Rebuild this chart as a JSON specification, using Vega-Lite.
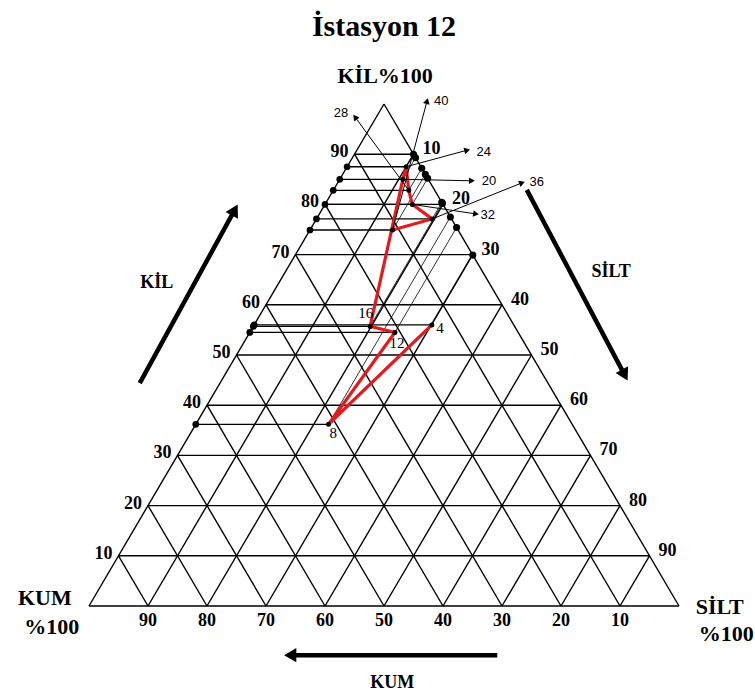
{
  "$schema": "https://vega.github.io/schema/vega-lite/v6.json",
  "width": 590,
  "height": 502,
  "autosize": {"type": "none"},
  "padding": {"left": 89, "top": 104, "right": 76, "bottom": 88},
  "background": "white",
  "config": {"view": {"stroke": null}},
  "title": {"text": "İstasyon 12", "font": "Liberation Serif", "fontSize": 30, "fontWeight": "bold", "color": "black", "anchor": "middle", "baseline": "bottom", "offset": -7},
  "datasets": {
    "grid": [
      {"x": 0, "y": 0, "x2": 100, "y2": 0},
      {"x": 0, "y": 0, "x2": 50, "y2": 100},
      {"x": 100, "y": 0, "x2": 50, "y2": 100},
      {"x": 5, "y": 10, "x2": 95, "y2": 10},
      {"x": 10, "y": 20, "x2": 90, "y2": 20},
      {"x": 15, "y": 30, "x2": 85, "y2": 30},
      {"x": 20, "y": 40, "x2": 80, "y2": 40},
      {"x": 25, "y": 50, "x2": 75, "y2": 50},
      {"x": 30, "y": 60, "x2": 70, "y2": 60},
      {"x": 35, "y": 70, "x2": 65, "y2": 70},
      {"x": 40, "y": 80, "x2": 60, "y2": 80},
      {"x": 45, "y": 90, "x2": 55, "y2": 90},
      {"x": 10, "y": 0, "x2": 55, "y2": 90},
      {"x": 20, "y": 0, "x2": 60, "y2": 80},
      {"x": 30, "y": 0, "x2": 65, "y2": 70},
      {"x": 40, "y": 0, "x2": 70, "y2": 60},
      {"x": 50, "y": 0, "x2": 75, "y2": 50},
      {"x": 60, "y": 0, "x2": 80, "y2": 40},
      {"x": 70, "y": 0, "x2": 85, "y2": 30},
      {"x": 80, "y": 0, "x2": 90, "y2": 20},
      {"x": 90, "y": 0, "x2": 95, "y2": 10},
      {"x": 10, "y": 0, "x2": 5, "y2": 10},
      {"x": 20, "y": 0, "x2": 10, "y2": 20},
      {"x": 30, "y": 0, "x2": 15, "y2": 30},
      {"x": 40, "y": 0, "x2": 20, "y2": 40},
      {"x": 50, "y": 0, "x2": 25, "y2": 50},
      {"x": 60, "y": 0, "x2": 30, "y2": 60},
      {"x": 70, "y": 0, "x2": 35, "y2": 70},
      {"x": 80, "y": 0, "x2": 40, "y2": 80},
      {"x": 90, "y": 0, "x2": 45, "y2": 90}
    ],
    "samples": [
      {"depth": 4, "clay": 56.0, "silt": 30.1, "sand": 13.9, "lx": 59.5, "ly": 55.4},
      {"depth": 8, "clay": 36.2, "silt": 22.5, "sand": 41.3, "lx": 41.4, "ly": 34.5},
      {"depth": 12, "clay": 54.5, "silt": 24.6, "sand": 20.9, "lx": 52.2, "ly": 52.4},
      {"depth": 16, "clay": 55.7, "silt": 19.8, "sand": 24.5, "lx": 46.9, "ly": 58.4},
      {"depth": 20, "clay": 85.0, "silt": 10.7, "sand": 4.3, "tx": 64.9, "ty": 84.7, "lx": 67.8, "ly": 84.7},
      {"depth": 24, "clay": 87.5, "silt": 10.0, "sand": 2.5, "tx": 64.1, "ty": 90.8, "lx": 66.9, "ly": 90.4},
      {"depth": 28, "clay": 82.8, "silt": 12.8, "sand": 4.4, "tx": 45.1, "ty": 97.4, "lx": 42.7, "ly": 98.2},
      {"depth": 32, "clay": 80.0, "silt": 14.8, "sand": 5.2, "tx": 65.6, "ty": 78.1, "lx": 67.6, "ly": 77.9},
      {"depth": 36, "clay": 77.1, "silt": 19.6, "sand": 3.3, "tx": 73.4, "ty": 84.3, "lx": 75.9, "ly": 84.5},
      {"depth": 40, "clay": 74.9, "silt": 14.0, "sand": 11.1, "tx": 57.3, "ty": 100.6, "lx": 59.7, "ly": 100.6}
    ],
    "ticks": [
      {"side": "left", "text": "10", "x": 5, "y": 10},
      {"side": "left", "text": "20", "x": 10, "y": 20},
      {"side": "left", "text": "30", "x": 15, "y": 30},
      {"side": "left", "text": "40", "x": 20, "y": 40},
      {"side": "left", "text": "50", "x": 25, "y": 50},
      {"side": "left", "text": "60", "x": 30, "y": 60},
      {"side": "left", "text": "70", "x": 35, "y": 70},
      {"side": "left", "text": "80", "x": 40, "y": 80},
      {"side": "left", "text": "90", "x": 45, "y": 90},
      {"side": "right", "text": "10", "x": 55, "y": 90},
      {"side": "right", "text": "20", "x": 60, "y": 80},
      {"side": "right", "text": "30", "x": 65, "y": 70},
      {"side": "right", "text": "40", "x": 70, "y": 60},
      {"side": "right", "text": "50", "x": 75, "y": 50},
      {"side": "right", "text": "60", "x": 80, "y": 40},
      {"side": "right", "text": "70", "x": 85, "y": 30},
      {"side": "right", "text": "80", "x": 90, "y": 20},
      {"side": "right", "text": "90", "x": 95, "y": 10},
      {"side": "bottom", "text": "90", "x": 10, "y": 0},
      {"side": "bottom", "text": "80", "x": 20, "y": 0},
      {"side": "bottom", "text": "70", "x": 30, "y": 0},
      {"side": "bottom", "text": "60", "x": 40, "y": 0},
      {"side": "bottom", "text": "50", "x": 50, "y": 0},
      {"side": "bottom", "text": "40", "x": 60, "y": 0},
      {"side": "bottom", "text": "30", "x": 70, "y": 0},
      {"side": "bottom", "text": "20", "x": 80, "y": 0},
      {"side": "bottom", "text": "10", "x": 90, "y": 0}
    ],
    "names": [
      {"kind": "corner", "text": "KİL%100", "x": 50.2, "y": 105.6},
      {"kind": "corner", "text": "KUM", "x": -7.5, "y": 1.6},
      {"kind": "corner", "text": "%100", "x": -6.3, "y": -4.2},
      {"kind": "corner", "text": "SİLT", "x": 106.9, "y": -0.2},
      {"kind": "corner", "text": "%100", "x": 108.0, "y": -5.6},
      {"kind": "side", "text": "KİL", "x": 11.5, "y": 64.3},
      {"kind": "side", "text": "SİLT", "x": 88.5, "y": 66.5},
      {"kind": "side", "text": "KUM", "x": 51.4, "y": -15.3}
    ],
    "bigArrows": [
      {"name": "KİL", "x": 8.6, "y": 44.4, "x2": 24.7, "y2": 78.9},
      {"name": "SİLT", "x": 74.2, "y": 82.9, "x2": 90.8, "y2": 46.0},
      {"name": "KUM", "x": 69.2, "y": -9.8, "x2": 34.1, "y2": -9.8}
    ]
  },
  "layer": [
    {
      "data": {"name": "grid"},
      "mark": {"type": "rule", "color": "black", "strokeWidth": 1.4},
      "encoding": {
        "x": {"field": "x", "type": "quantitative", "scale": {"domain": [0, 100], "nice": false, "zero": false}, "axis": null},
        "y": {"field": "y", "type": "quantitative", "scale": {"domain": [0, 100], "nice": false, "zero": false}, "axis": null},
        "x2": {"field": "x2"},
        "y2": {"field": "y2"}
      }
    },
    {
      "data": {"name": "samples"},
      "transform": [
        {"calculate": "datum.silt + datum.clay / 2", "as": "x"},
        {"calculate": "datum.clay", "as": "y"},
        {"calculate": "datum.clay / 2", "as": "xl"},
        {"calculate": "50 + datum.silt / 2", "as": "xr"},
        {"calculate": "100 - datum.silt", "as": "yr"},
        {"calculate": "atan2((datum.tx - datum.x) * 5.9, (datum.ty - datum.y) * 5.02) * 180 / PI", "as": "ang"}
      ],
      "layer": [
        {
          "mark": {"type": "rule", "color": "black", "strokeWidth": 1.3},
          "encoding": {
            "x": {"field": "x", "type": "quantitative", "scale": {"domain": [0, 100], "nice": false, "zero": false}, "axis": null},
            "y": {"field": "y", "type": "quantitative", "scale": {"domain": [0, 100], "nice": false, "zero": false}, "axis": null},
            "x2": {"field": "xl"},
            "y2": {"field": "y"}
          }
        },
        {
          "mark": {"type": "rule", "color": "black", "strokeWidth": 0.8},
          "encoding": {
            "x": {"field": "x", "type": "quantitative", "scale": {"domain": [0, 100], "nice": false, "zero": false}, "axis": null},
            "y": {"field": "y", "type": "quantitative", "scale": {"domain": [0, 100], "nice": false, "zero": false}, "axis": null},
            "x2": {"field": "xr"},
            "y2": {"field": "yr"}
          }
        },
        {
          "mark": {"type": "point", "filled": true, "color": "black", "opacity": 1, "size": 45},
          "encoding": {
            "x": {"field": "xl", "type": "quantitative", "scale": {"domain": [0, 100], "nice": false, "zero": false}, "axis": null},
            "y": {"field": "y", "type": "quantitative", "scale": {"domain": [0, 100], "nice": false, "zero": false}, "axis": null}
          }
        },
        {
          "mark": {"type": "point", "filled": true, "color": "black", "opacity": 1, "size": 50},
          "encoding": {
            "x": {"field": "xr", "type": "quantitative", "scale": {"domain": [0, 100], "nice": false, "zero": false}, "axis": null},
            "y": {"field": "yr", "type": "quantitative", "scale": {"domain": [0, 100], "nice": false, "zero": false}, "axis": null}
          }
        },
        {
          "mark": {"type": "line", "color": "#e41a1c", "strokeWidth": 3.2, "strokeJoin": "miter"},
          "encoding": {
            "x": {"field": "x", "type": "quantitative", "scale": {"domain": [0, 100], "nice": false, "zero": false}, "axis": null},
            "y": {"field": "y", "type": "quantitative", "scale": {"domain": [0, 100], "nice": false, "zero": false}, "axis": null},
            "order": {"field": "depth", "type": "quantitative"}
          }
        },
        {
          "mark": {"type": "point", "filled": true, "color": "black", "opacity": 1, "size": 25},
          "encoding": {
            "x": {"field": "x", "type": "quantitative", "scale": {"domain": [0, 100], "nice": false, "zero": false}, "axis": null},
            "y": {"field": "y", "type": "quantitative", "scale": {"domain": [0, 100], "nice": false, "zero": false}, "axis": null}
          }
        },
        {
          "transform": [{"filter": "isValid(datum.tx)"}],
          "mark": {"type": "rule", "color": "black", "strokeWidth": 1},
          "encoding": {
            "x": {"field": "x", "type": "quantitative", "scale": {"domain": [0, 100], "nice": false, "zero": false}, "axis": null},
            "y": {"field": "y", "type": "quantitative", "scale": {"domain": [0, 100], "nice": false, "zero": false}, "axis": null},
            "x2": {"field": "tx"},
            "y2": {"field": "ty"}
          }
        },
        {
          "transform": [{"filter": "isValid(datum.tx)"}],
          "mark": {"type": "point", "shape": "triangle-up", "filled": true, "color": "black", "opacity": 1, "size": 45},
          "encoding": {
            "x": {"field": "tx", "type": "quantitative", "scale": {"domain": [0, 100], "nice": false, "zero": false}, "axis": null},
            "y": {"field": "ty", "type": "quantitative", "scale": {"domain": [0, 100], "nice": false, "zero": false}, "axis": null},
            "angle": {"field": "ang", "type": "quantitative", "scale": null}
          }
        },
        {
          "transform": [{"filter": "datum.depth >= 20"}],
          "mark": {"type": "text", "font": "Liberation Sans", "fontSize": 13, "color": "black", "align": "center", "baseline": "middle"},
          "encoding": {
            "x": {"field": "lx", "type": "quantitative", "scale": {"domain": [0, 100], "nice": false, "zero": false}, "axis": null},
            "y": {"field": "ly", "type": "quantitative", "scale": {"domain": [0, 100], "nice": false, "zero": false}, "axis": null},
            "text": {"field": "depth", "type": "nominal"}
          }
        },
        {
          "transform": [{"filter": "datum.depth < 20"}],
          "mark": {"type": "text", "font": "Liberation Serif", "fontSize": 15, "color": "black", "align": "center", "baseline": "middle"},
          "encoding": {
            "x": {"field": "lx", "type": "quantitative", "scale": {"domain": [0, 100], "nice": false, "zero": false}, "axis": null},
            "y": {"field": "ly", "type": "quantitative", "scale": {"domain": [0, 100], "nice": false, "zero": false}, "axis": null},
            "text": {"field": "depth", "type": "nominal"}
          }
        }
      ]
    },
    {
      "data": {"name": "bigArrows"},
      "transform": [
        {"calculate": "atan2((datum.x2 - datum.x) * 5.9, (datum.y2 - datum.y) * 5.02) * 180 / PI", "as": "ang"}
      ],
      "layer": [
        {
          "mark": {"type": "rule", "color": "black", "strokeWidth": 4.5},
          "encoding": {
            "x": {"field": "x", "type": "quantitative", "scale": {"domain": [0, 100], "nice": false, "zero": false}, "axis": null},
            "y": {"field": "y", "type": "quantitative", "scale": {"domain": [0, 100], "nice": false, "zero": false}, "axis": null},
            "x2": {"field": "x2"},
            "y2": {"field": "y2"}
          }
        },
        {
          "mark": {"type": "point", "shape": "triangle-up", "filled": true, "color": "black", "opacity": 1, "size": 200},
          "encoding": {
            "x": {"field": "x2", "type": "quantitative", "scale": {"domain": [0, 100], "nice": false, "zero": false}, "axis": null},
            "y": {"field": "y2", "type": "quantitative", "scale": {"domain": [0, 100], "nice": false, "zero": false}, "axis": null},
            "angle": {"field": "ang", "type": "quantitative", "scale": null}
          }
        }
      ]
    },
    {
      "data": {"name": "ticks"},
      "layer": [
        {
          "transform": [{"filter": "datum.side === 'left'"}],
          "mark": {"type": "text", "font": "Liberation Serif", "fontWeight": "bold", "fontSize": 18, "color": "black", "align": "right", "baseline": "middle", "dx": -6, "dy": -2},
          "encoding": {
            "x": {"field": "x", "type": "quantitative", "scale": {"domain": [0, 100], "nice": false, "zero": false}, "axis": null},
            "y": {"field": "y", "type": "quantitative", "scale": {"domain": [0, 100], "nice": false, "zero": false}, "axis": null},
            "text": {"field": "text", "type": "nominal"}
          }
        },
        {
          "transform": [{"filter": "datum.side === 'right'"}],
          "mark": {"type": "text", "font": "Liberation Serif", "fontWeight": "bold", "fontSize": 18, "color": "black", "align": "left", "baseline": "middle", "dx": 9, "dy": -5},
          "encoding": {
            "x": {"field": "x", "type": "quantitative", "scale": {"domain": [0, 100], "nice": false, "zero": false}, "axis": null},
            "y": {"field": "y", "type": "quantitative", "scale": {"domain": [0, 100], "nice": false, "zero": false}, "axis": null},
            "text": {"field": "text", "type": "nominal"}
          }
        },
        {
          "transform": [{"filter": "datum.side === 'bottom'"}],
          "mark": {"type": "text", "font": "Liberation Serif", "fontWeight": "bold", "fontSize": 18, "color": "black", "align": "center", "baseline": "middle", "dy": 15},
          "encoding": {
            "x": {"field": "x", "type": "quantitative", "scale": {"domain": [0, 100], "nice": false, "zero": false}, "axis": null},
            "y": {"field": "y", "type": "quantitative", "scale": {"domain": [0, 100], "nice": false, "zero": false}, "axis": null},
            "text": {"field": "text", "type": "nominal"}
          }
        }
      ]
    },
    {
      "data": {"name": "names"},
      "layer": [
        {
          "transform": [{"filter": "datum.kind === 'corner'"}],
          "mark": {"type": "text", "font": "Liberation Serif", "fontWeight": "bold", "fontSize": 22, "color": "black", "align": "center", "baseline": "middle"},
          "encoding": {
            "x": {"field": "x", "type": "quantitative", "scale": {"domain": [0, 100], "nice": false, "zero": false}, "axis": null},
            "y": {"field": "y", "type": "quantitative", "scale": {"domain": [0, 100], "nice": false, "zero": false}, "axis": null},
            "text": {"field": "text", "type": "nominal"}
          }
        },
        {
          "transform": [{"filter": "datum.kind === 'side'"}],
          "mark": {"type": "text", "font": "Liberation Serif", "fontWeight": "bold", "fontSize": 18, "color": "black", "align": "center", "baseline": "middle"},
          "encoding": {
            "x": {"field": "x", "type": "quantitative", "scale": {"domain": [0, 100], "nice": false, "zero": false}, "axis": null},
            "y": {"field": "y", "type": "quantitative", "scale": {"domain": [0, 100], "nice": false, "zero": false}, "axis": null},
            "text": {"field": "text", "type": "nominal"}
          }
        }
      ]
    }
  ]
}
